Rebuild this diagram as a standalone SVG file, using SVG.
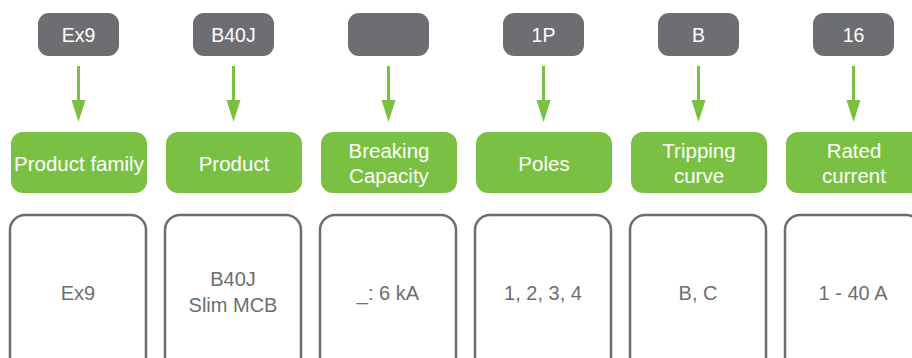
<svg xmlns="http://www.w3.org/2000/svg" width="912" height="358" viewBox="0 0 912 358">
<style>
.code{fill:#6d6e71}
.cat{fill:#7ac143}
.val{fill:#fff;stroke:#6d6e71;stroke-width:2.5}
.wt{font-family:"Liberation Sans",Arial,sans-serif;font-size:20.5px;fill:#fff;text-anchor:middle}
.ct{font-family:"Liberation Sans",Arial,sans-serif;font-size:19.5px;fill:#fff;text-anchor:middle}
.gt{font-family:"Liberation Sans",Arial,sans-serif;font-size:20px;fill:#6d6e71;text-anchor:middle}
.ln{stroke:#7ac143;stroke-width:3;fill:none}
.hd{fill:#7ac143}
</style>
<rect width="912" height="358" fill="#fff"/>
<g id="connectors">
<line class="ln" x1="78.5" y1="66" x2="78.5" y2="102"/><polygon class="hd" points="71.5,100 85.5,100 78.5,122"/>
<line class="ln" x1="233.5" y1="66" x2="233.5" y2="102"/><polygon class="hd" points="226.5,100 240.5,100 233.5,122"/>
<line class="ln" x1="388.5" y1="66" x2="388.5" y2="102"/><polygon class="hd" points="381.5,100 395.5,100 388.5,122"/>
<line class="ln" x1="543.5" y1="66" x2="543.5" y2="102"/><polygon class="hd" points="536.5,100 550.5,100 543.5,122"/>
<line class="ln" x1="698.5" y1="66" x2="698.5" y2="102"/><polygon class="hd" points="691.5,100 705.5,100 698.5,122"/>
<line class="ln" x1="853.5" y1="66" x2="853.5" y2="102"/><polygon class="hd" points="846.5,100 860.5,100 853.5,122"/>
</g>
<g id="code1"><rect class="code" x="38" y="13" width="81" height="43" rx="11"/><text class="ct" x="78.5" y="42">Ex9</text></g>
<g id="code2"><rect class="code" x="193" y="13" width="81" height="43" rx="11"/><text class="ct" x="233.5" y="42">B40J</text></g>
<g id="code3"><rect class="code" x="348" y="13" width="81" height="43" rx="11"/></g>
<g id="code4"><rect class="code" x="503" y="13" width="81" height="43" rx="11"/><text class="ct" x="543.5" y="42">1P</text></g>
<g id="code5"><rect class="code" x="658" y="13" width="81" height="43" rx="11"/><text class="ct" x="698.5" y="42">B</text></g>
<g id="code6"><rect class="code" x="813" y="13" width="81" height="43" rx="11"/><text class="ct" x="853.5" y="42">16</text></g>

<g id="cat1"><rect class="cat" x="11" y="132" width="136" height="61" rx="12"/><text class="wt" x="79" y="171">Product family</text></g>
<g id="cat2"><rect class="cat" x="166" y="132" width="136" height="61" rx="12"/><text class="wt" x="234" y="171">Product</text></g>
<g id="cat3"><rect class="cat" x="321" y="132" width="136" height="61" rx="12"/><text class="wt" x="389" y="158">Breaking</text><text class="wt" x="389" y="183">Capacity</text></g>
<g id="cat4"><rect class="cat" x="476" y="132" width="136" height="61" rx="12"/><text class="wt" x="544" y="171">Poles</text></g>
<g id="cat5"><rect class="cat" x="631" y="132" width="136" height="61" rx="12"/><text class="wt" x="699" y="158">Tripping</text><text class="wt" x="699" y="183">curve</text></g>
<g id="cat6"><rect class="cat" x="786" y="132" width="136" height="61" rx="12"/><text class="wt" x="854" y="158">Rated</text><text class="wt" x="854" y="183">current</text></g>

<g id="val1"><rect class="val" x="10" y="215" width="136" height="170" rx="15"/><text class="gt" x="78" y="300">Ex9</text></g>
<g id="val2"><rect class="val" x="165" y="215" width="136" height="170" rx="15"/><text class="gt" x="233" y="286">B40J</text><text class="gt" x="233" y="312">Slim MCB</text></g>
<g id="val3"><rect class="val" x="320" y="215" width="136" height="170" rx="15"/><text class="gt" x="388" y="300">_: 6 kA</text></g>
<g id="val4"><rect class="val" x="475" y="215" width="136" height="170" rx="15"/><text class="gt" x="543" y="300">1, 2, 3, 4</text></g>
<g id="val5"><rect class="val" x="630" y="215" width="136" height="170" rx="15"/><text class="gt" x="698" y="300">B, C</text></g>
<g id="val6"><rect class="val" x="785" y="215" width="136" height="170" rx="15"/><text class="gt" x="853" y="300">1 - 40 A</text></g>
</svg>
